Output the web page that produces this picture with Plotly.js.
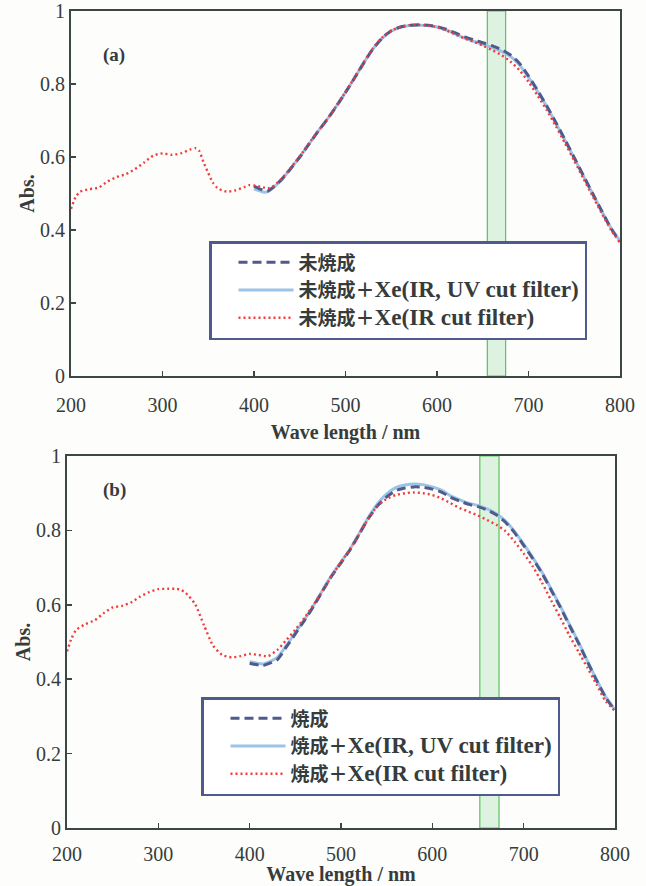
<!DOCTYPE html>
<html>
<head>
<meta charset="utf-8">
<script src="https://cdn.plot.ly/plotly-3.0.1.min.js"></script>
<style>
html,body{margin:0;padding:0;background:#fdfdfb;}
#chart{width:646px;height:886px;}
</style>
</head>
<body>
<div id="chart"></div>
<script>
// ---------- Panel (a): 未焼成 ----------
const wlRedA = [200,205,210,220,230,240,250,260,270,280,290,300,310,320,330,336,340,345,350,355,360,370,380,390,395,400,410,415,420,430,440,450,460,470,480,490,500,510,520,530,540,550,560,570,580,590,600,610,620,630,640,650,660,670,680,690,700,710,720,730,740,750,760,770,780,790,800];
const absRedA = [0.458,0.490,0.505,0.512,0.516,0.533,0.545,0.553,0.567,0.585,0.604,0.610,0.606,0.610,0.620,0.624,0.617,0.585,0.556,0.530,0.515,0.505,0.509,0.518,0.523,0.522,0.517,0.514,0.518,0.540,0.570,0.602,0.637,0.671,0.704,0.740,0.778,0.818,0.860,0.898,0.927,0.946,0.956,0.961,0.962,0.960,0.956,0.947,0.936,0.925,0.916,0.905,0.893,0.880,0.862,0.838,0.806,0.768,0.728,0.684,0.637,0.590,0.541,0.493,0.446,0.401,0.365];

const wlA = [400,405,410,415,420,430,440,450,460,470,480,490,500,510,520,530,540,550,560,570,580,590,600,610,620,630,640,650,660,670,680,690,700,710,720,730,740,750,760,770,780,790,800];
const absBlueA = [0.513,0.508,0.504,0.505,0.514,0.537,0.568,0.600,0.635,0.670,0.703,0.739,0.777,0.817,0.858,0.896,0.925,0.945,0.955,0.960,0.961,0.960,0.956,0.948,0.937,0.926,0.917,0.909,0.900,0.890,0.876,0.853,0.818,0.779,0.738,0.692,0.645,0.597,0.548,0.500,0.452,0.406,0.370];
const absDashA = [0.520,0.514,0.509,0.507,0.515,0.538,0.568,0.600,0.635,0.670,0.703,0.739,0.777,0.817,0.858,0.896,0.926,0.946,0.956,0.961,0.962,0.961,0.957,0.950,0.940,0.929,0.921,0.913,0.905,0.895,0.880,0.857,0.822,0.782,0.740,0.694,0.647,0.598,0.549,0.500,0.452,0.405,0.368];

// ---------- Panel (b): 焼成 ----------
const wlRedB = [200,205,210,220,230,240,250,260,270,280,290,300,310,320,325,330,340,350,360,370,380,390,400,410,420,430,440,450,460,470,480,490,500,510,520,530,540,550,560,570,580,590,600,610,620,630,640,650,660,670,680,690,700,710,720,730,740,750,760,770,780,790,800];
const absRedB = [0.475,0.510,0.532,0.548,0.558,0.577,0.593,0.597,0.606,0.622,0.634,0.642,0.643,0.643,0.640,0.632,0.603,0.545,0.490,0.465,0.459,0.462,0.468,0.465,0.462,0.478,0.505,0.533,0.565,0.600,0.638,0.678,0.715,0.750,0.790,0.832,0.866,0.885,0.895,0.900,0.902,0.900,0.895,0.886,0.873,0.860,0.850,0.840,0.828,0.815,0.798,0.770,0.738,0.703,0.660,0.612,0.566,0.518,0.474,0.430,0.385,0.340,0.315];

const wlB = [400,405,410,415,420,430,440,450,460,470,480,490,500,510,520,530,540,550,560,570,580,590,600,610,620,630,640,650,660,670,680,690,700,710,720,730,740,750,760,770,780,790,800];
const absBlueB = [0.447,0.445,0.442,0.441,0.445,0.458,0.490,0.525,0.560,0.598,0.640,0.680,0.715,0.750,0.792,0.835,0.872,0.898,0.915,0.922,0.925,0.923,0.917,0.908,0.893,0.882,0.873,0.867,0.858,0.845,0.826,0.797,0.763,0.727,0.688,0.643,0.597,0.548,0.500,0.448,0.398,0.352,0.318];
const absDashB = [0.443,0.440,0.438,0.437,0.441,0.452,0.486,0.522,0.558,0.596,0.638,0.678,0.713,0.748,0.790,0.832,0.866,0.890,0.907,0.914,0.917,0.916,0.911,0.903,0.889,0.879,0.870,0.864,0.855,0.842,0.822,0.794,0.760,0.724,0.685,0.640,0.594,0.545,0.497,0.446,0.396,0.350,0.316];

const prefixA = "未焼成";
const prefixB = "焼成";
const plusSign = "＋";
const conditions = ["Xe(IR, UV cut filter)", "Xe(IR cut filter)"];
const panelLabels = ["(a)", "(b)"];
const xTitle = "Wave length / nm";
const yTitle = "Abs.";
const bandA = [655, 675];
const bandB = [652, 673];

// ---------- styles ----------
const serif = "Liberation Serif, Times New Roman, Noto Sans CJK JP, serif";
const legFont = "Liberation Serif, Noto Sans CJK JP, serif";
const ink = "#363c3c";
const frame = "#3d4646";
const navy = "#4e5b8c";
const lightBlue = "#9cc4e6";
const red = "#f23c3c";

function legendNames(prefix) {
  const latin = s => "<span style='font-size:23.2px'>" + s + "</span>";
  return [prefix,
          prefix + plusSign + latin(conditions[0]),
          prefix + plusSign + latin(conditions[1])];
}

function traces(wlR, r, wl, b, d, names, xa, ya, leg) {
  return [
    {x: wl, y: b, xaxis: xa, yaxis: ya, name: names[1], legend: leg, legendrank: 2,
     mode: "lines", line: {color: lightBlue, width: 3, shape: "spline", smoothing: 0.6}},
    {x: wl, y: d, xaxis: xa, yaxis: ya, name: names[0], legend: leg, legendrank: 1,
     mode: "lines", line: {color: navy, width: 3, dash: "9px,5px", shape: "spline", smoothing: 0.6}},
    {x: wlR, y: r, xaxis: xa, yaxis: ya, name: names[2], legend: leg, legendrank: 3,
     mode: "lines", line: {color: red, width: 2.4, dash: "2px,3px", shape: "spline", smoothing: 0.6}}
  ];
}

const data = [
  ...traces(wlRedA, absRedA, wlA, absBlueA, absDashA, legendNames(prefixA), "x", "y", "legend"),
  ...traces(wlRedB, absRedB, wlB, absBlueB, absDashB, legendNames(prefixB), "x2", "y2", "legend2")
];

function xax(domain, anchor, lblStandoff, titleStandoff) {
  return {domain: domain, anchor: anchor, range: [200, 800], dtick: 100, tick0: 200,
    showgrid: false, zeroline: false, showline: true, mirror: true, linecolor: frame, linewidth: 2,
    ticks: "inside", ticklen: 5, tickwidth: 1.5, tickcolor: frame, ticklabelstandoff: lblStandoff,
    tickfont: {family: serif, size: 20, color: ink}, automargin: false,
    title: {text: xTitle, standoff: titleStandoff, font: {family: serif, size: 20, color: ink, weight: "bold"}}};
}
function yax(domain, anchor) {
  return {domain: domain, anchor: anchor, range: [0, 1], dtick: 0.2, tick0: 0,
    showgrid: false, zeroline: false, showline: true, mirror: true, linecolor: frame, linewidth: 2,
    ticks: "inside", ticklen: 5, tickwidth: 1.5, tickcolor: frame, ticklabeloverflow: "allow",
    tickfont: {family: serif, size: 20, color: ink}, automargin: false,
    title: {text: yTitle, standoff: 0, font: {family: serif, size: 20, color: ink, weight: "bold"}}};
}
function band(rng, xref, yref) {
  return {type: "rect", xref: xref, yref: yref + " domain", x0: rng[0], x1: rng[1], y0: 0, y1: 1,
    fillcolor: "rgba(196,234,204,0.55)", line: {color: "#5cc25c", width: 1.2}, layer: "below"};
}
function legendBox(x, y) {
  return {x: x, y: y, xanchor: "left", yanchor: "top", bgcolor: "#ffffff",
    bordercolor: navy, borderwidth: 2.5, itemwidth: 55, indentation: 22,
    font: {family: legFont, size: 19, color: ink, weight: "bold"}};
}

const layout = {
  width: 646, height: 886,
  margin: {l: 0, r: 0, t: 0, b: 0},
  paper_bgcolor: "#fdfdfb", plot_bgcolor: "#fdfdfb",
  showlegend: true,
  xaxis: xax([71/646, 620/646], "y", 10, 10),
  yaxis: yax([(886-376)/886, (886-11)/886], "x"),
  xaxis2: xax([67/646, 615/646], "y2", 7, 7),
  yaxis2: yax([(886-828)/886, (886-456)/886], "x2"),
  legend: legendBox(209/646, (886-241)/886),
  legend2: legendBox(201/646, (886-697)/886),
  shapes: [band(bandA, "x", "y"), band(bandB, "x2", "y2")],
  annotations: [
    {text: panelLabels[0], xref: "paper", yref: "paper", x: 101/646, y: (886-42)/886, showarrow: false,
     font: {family: serif, size: 19, color: ink, weight: "bold"}},
    {text: panelLabels[1], xref: "paper", yref: "paper", x: 101/646, y: (886-490)/886, showarrow: false,
     font: {family: serif, size: 19, color: ink, weight: "bold"}}
  ]
};

Plotly.newPlot("chart", data, layout, {staticPlot: true, displayModeBar: false});
</script>
</body>
</html>
